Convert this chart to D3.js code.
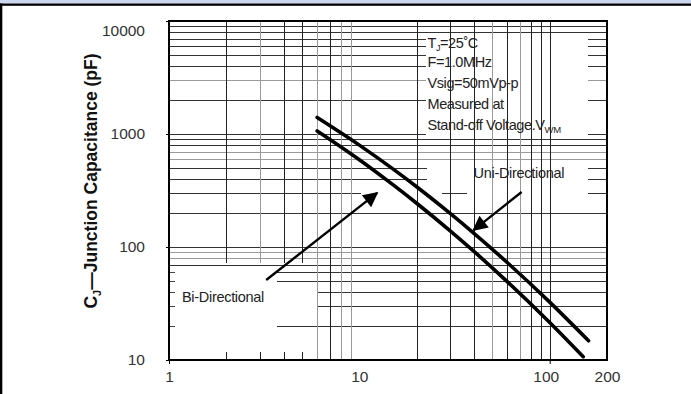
<!DOCTYPE html>
<html>
<head>
<meta charset="utf-8">
<script src="https://cdn.jsdelivr.net/npm/d3@7"></script>
<style>
  body { margin: 0; background: #fff; }
  svg { display: block; font-family: "Liberation Sans", Arial, sans-serif; }
</style>
</head>
<body>
<div id="chart"></div>
<script>
// Data
const xTicks = [1, 10, 100, 200];
const yTicks = [10, 100, 1000, 10000];

// Uni-Directional curve (V, pF)
const uniV = [6, 10, 15, 20, 30, 40, 60, 100, 160];
const uniC = [1400, 797, 491, 341, 198, 132, 72.6, 32.5, 14.8];
// Bi-Directional curve (V, pF)
const biV = [6, 10, 15, 20, 30, 40, 60, 100, 150];
const biC = [1065, 592, 356, 244, 139, 91.4, 49.2, 21.5, 10.7];

// grid values
const xGrid = [2, 3, 4, 5, 6, 7, 8, 9, 20, 30, 40, 50, 60, 70, 80, 90, 100];
const xGridLight = [3, 6, 8, 9, 50, 70];
const yGrid = [20, 30, 40, 50, 60, 70, 80, 90,
               100, 200, 300, 400, 500, 600, 700, 800, 900,
               1000, 2000, 3000, 4000, 5000, 6000, 7000, 8000, 9000];
const yGridLight = [90, 80, 600, 700, 3000];

const width = 691, height = 394;
const plot = { left: 169, right: 607, top: 21, bottom: 360 };

const svg = d3.select("#chart").append("svg")
    .attr("width", width)
    .attr("height", height);

// page frame: blue band, black rule, black left edge
svg.append("rect").attr("x", 0).attr("y", 0).attr("width", width).attr("height", 3.5).attr("fill", "#cdd6ef");
svg.append("rect").attr("x", 0).attr("y", 3.5).attr("width", width).attr("height", 2.3).attr("fill", "#000");
svg.append("rect").attr("x", 0).attr("y", 3.5).attr("width", 2.3).attr("height", height).attr("fill", "#000");

const x = d3.scaleLog().domain([1, 200]).range([plot.left, plot.right]);
const y = d3.scaleLog().domain([10, 10000]).range([plot.bottom, plot.top]);

const g = svg.append("g");

// horizontal grid
g.append("g").selectAll("line")
    .data(yGrid)
    .enter().append("line")
    .attr("x1", plot.left).attr("x2", plot.right)
    .attr("y1", d => Math.round(y(d)) + 0.5)
    .attr("y2", d => Math.round(y(d)) + 0.5)
    .attr("stroke", d => yGridLight.includes(d) ? "#9a9a9a" : "#333")
    .attr("stroke-width", 1);

// white boxes behind the labels (hide the horizontal grid)
const boxes = [
    [426, 35, 588, 137],   // notes
    [427, 163, 588, 186],  // Uni-Directional
    [467, 186, 588, 198],
    [361, 188, 442, 198],
    [170, 267, 277, 359],  // Bi-Directional
    [277, 285, 317, 312]
];
g.append("g").selectAll("rect")
    .data(boxes)
    .enter().append("rect")
    .attr("x", d => d[0]).attr("y", d => d[1])
    .attr("width", d => d[2] - d[0]).attr("height", d => d[3] - d[1])
    .attr("fill", "#fff");

// vertical grid (2..5 stop above the Bi-Directional box)
const vg = g.append("g");
vg.selectAll("line.v")
    .data(xGrid)
    .enter().append("line")
    .attr("class", "v")
    .attr("x1", d => Math.round(x(d)) + 0.5)
    .attr("x2", d => Math.round(x(d)) + 0.5)
    .attr("y1", plot.top)
    .attr("y2", d => d <= 5 ? 263 : plot.bottom)
    .attr("stroke", d => xGridLight.includes(d) ? "#9a9a9a" : "#222")
    .attr("stroke-width", 1);
vg.selectAll("line.t")
    .data(xGrid.filter(d => d <= 5))
    .enter().append("line")
    .attr("class", "t")
    .attr("x1", d => Math.round(x(d)) + 0.5)
    .attr("x2", d => Math.round(x(d)) + 0.5)
    .attr("y1", plot.bottom - 8)
    .attr("y2", plot.bottom)
    .attr("stroke", "#222");

// small left ticks in the lower decade
g.append("g").selectAll("line")
    .data([20, 30, 40, 50, 60])
    .enter().append("line")
    .attr("x1", plot.left).attr("x2", plot.left + 6)
    .attr("y1", d => Math.round(y(d)) + 0.5)
    .attr("y2", d => Math.round(y(d)) + 0.5)
    .attr("stroke", "#444");

// plot frame
g.append("rect")
    .attr("x", plot.left).attr("y", plot.top)
    .attr("width", plot.right - plot.left).attr("height", plot.bottom - plot.top)
    .attr("fill", "none").attr("stroke", "#000").attr("stroke-width", 2);

// axes
const yAxis = d3.axisLeft(y).tickValues(yTicks).tickFormat(d3.format("d")).tickSize(3).tickPadding(21);
const ya = g.append("g").attr("transform", "translate(" + plot.left + ",0)").call(yAxis);
ya.select(".domain").remove();
ya.selectAll("line").attr("stroke", "#000");
ya.selectAll("text")
    .style("font-size", "15.5px").attr("fill", "#333")
    .attr("dy", d => d === 10000 ? "0.95em" : "0.32em");

const xAxis = d3.axisBottom(x).tickValues(xTicks).tickFormat(d3.format("d")).tickSize(4).tickPadding(7);
const xa = g.append("g").attr("transform", "translate(0," + plot.bottom + ")").call(xAxis);
xa.select(".domain").remove();
xa.selectAll("line").attr("stroke", d => d === 10 || d === 200 ? "none" : "#000");
xa.selectAll("text")
    .style("font-size", "15.5px").attr("fill", "#333")
    .attr("dx", d => d === 100 ? "-4px" : 0);

// y axis title
const yt = svg.append("text")
    .attr("transform", "translate(97," + 181 + ") rotate(-90)")
    .attr("text-anchor", "middle")
    .style("font-size", "17.5px")
    .style("font-weight", "bold")
    .attr("fill", "#111");
yt.append("tspan").text("C");
yt.append("tspan").attr("dy", 4).style("font-size", "11px").text("J");
yt.append("tspan").attr("dy", -4).text("\u2014Junction Capacitance (pF)");

// curves
const line = d3.line()
    .x(d => x(d[0]))
    .y(d => y(d[1]))
    .curve(d3.curveMonotoneX);

const uni = uniV.map((v, i) => [v, uniC[i]]);
const bi = biV.map((v, i) => [v, biC[i]]);

[uni, bi].forEach(s => {
    g.append("path")
        .datum(s)
        .attr("d", line)
        .attr("fill", "none")
        .attr("stroke", "#000")
        .attr("stroke-width", 3.6)
        .attr("stroke-linecap", "round");
});

// notes
const notes = g.append("text")
    .attr("x", x(22.8))
    .style("font-size", "14.5px")
    .style("letter-spacing", "-0.4px")
    .attr("fill", "#222");
const n1 = notes.append("tspan").attr("x", x(22.8)).attr("y", 48);
n1.append("tspan").text("T");
n1.append("tspan").attr("dy", 3).style("font-size", "9px").text("J");
n1.append("tspan").attr("dy", -3).text("=25\u02DAC");
notes.append("tspan").attr("x", x(22.8)).attr("y", 67).text("F=1.0MHz");
notes.append("tspan").attr("x", x(22.8)).attr("y", 88).text("Vsig=50mVp-p");
notes.append("tspan").attr("x", x(22.8)).attr("y", 109).text("Measured at");
const n5 = notes.append("tspan").attr("x", x(22.8)).attr("y", 130);
n5.append("tspan").text("Stand-off Voltage.V");
n5.append("tspan").attr("dy", 3).style("font-size", "9.5px").text("WM");

// series labels
g.append("text")
    .attr("x", x(39.8)).attr("y", y(407))
    .style("font-size", "14.5px").style("letter-spacing", "-0.3px")
    .attr("fill", "#222")
    .text("Uni-Directional");
g.append("text")
    .attr("x", x(1.17)).attr("y", y(32.6))
    .style("font-size", "14.5px").style("letter-spacing", "-0.3px")
    .attr("fill", "#222")
    .text("Bi-Directional");

// arrows
svg.append("defs").append("marker")
    .attr("id", "head")
    .attr("viewBox", "0 0 10 10")
    .attr("refX", 9).attr("refY", 5)
    .attr("markerUnits", "userSpaceOnUse")
    .attr("markerWidth", 18).attr("markerHeight", 15)
    .attr("orient", "auto")
    .append("path")
    .attr("d", "M0,0 L10,5 L0,10 Z")
    .attr("fill", "#000");

const arrows = [
    [[3.24, 51], [12.4, 301]],
    [[71.2, 307], [39.8, 141]]
];
g.append("g").selectAll("line")
    .data(arrows)
    .enter().append("line")
    .attr("x1", d => x(d[0][0])).attr("y1", d => y(d[0][1]))
    .attr("x2", d => x(d[1][0])).attr("y2", d => y(d[1][1]))
    .attr("stroke", "#000")
    .attr("stroke-width", 2.4)
    .attr("marker-end", "url(#head)");
</script>
</body>
</html>
